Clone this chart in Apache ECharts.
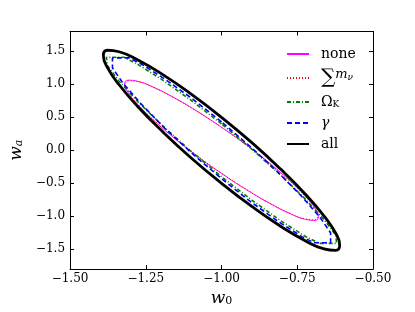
<!DOCTYPE html>
<html><head><meta charset="utf-8">
<script src="https://cdn.jsdelivr.net/npm/echarts@6/dist/echarts.min.js"></script>
<style>html,body{margin:0;padding:0;background:#fff}#c{width:415px;height:312px}</style>
</head><body><div id="c"></div>
<script>
const xTicks = [-1.5, -1.25, -1.0, -0.75, -0.5];
const yTicks = [-1.5, -1.0, -0.5, 0, 0.5, 1.0, 1.5];
const legendNames = ['none', '\u2211m\u03bd', '\u03a9K', '\u03b3', 'all'];

// contour points, [w0, wa]
const noneContour = [
  [-1.000,0.350],[-1.083,0.599],[-1.160,0.806],[-1.226,0.959],[-1.277,1.046],[-1.309,1.062],
  [-1.320,1.006],[-1.309,0.881],[-1.277,0.696],[-1.226,0.464],[-1.160,0.200],[-1.083,-0.078],
  [-1.000,-0.350],[-0.917,-0.599],[-0.840,-0.806],[-0.774,-0.959],[-0.723,-1.046],[-0.691,-1.062],
  [-0.680,-1.006],[-0.691,-0.881],[-0.723,-0.696],[-0.774,-0.464],[-0.840,-0.200],[-0.917,0.078],
  [-1.000,0.350]
];
const mnuContour = [
  [-1.000,0.347],[-1.082,0.593],[-1.158,0.798],[-1.224,0.949],[-1.274,1.036],[-1.306,1.051],
  [-1.317,0.996],[-1.306,0.872],[-1.274,0.689],[-1.224,0.459],[-1.158,0.198],[-1.082,-0.077],
  [-1.000,-0.347],[-0.918,-0.593],[-0.842,-0.798],[-0.776,-0.949],[-0.726,-1.036],[-0.694,-1.051],
  [-0.683,-0.996],[-0.694,-0.872],[-0.726,-0.689],[-0.776,-0.459],[-0.842,-0.198],[-0.918,0.077],
  [-1.000,0.347]
];
const omegaKContour = [
  [-1.000,0.400],[-1.101,0.759],[-1.195,1.066],[-1.276,1.301],[-1.322,1.410],[-1.380,1.410],
  [-1.377,1.287],[-1.338,1.047],[-1.276,0.735],[-1.195,0.374],[-1.101,-0.014],
  [-1.000,-0.400],[-0.899,-0.759],[-0.805,-1.066],[-0.724,-1.301],[-0.678,-1.410],[-0.620,-1.410],
  [-0.623,-1.287],[-0.662,-1.047],[-0.724,-0.735],[-0.805,-0.374],[-0.899,0.014],
  [-1.000,0.400]
];
const gammaContour = [
  [-1.000,0.430],[-1.097,0.783],[-1.188,1.082],[-1.265,1.308],[-1.305,1.400],[-1.360,1.400],
  [-1.360,1.250],[-1.325,1.015],[-1.265,0.700],[-1.188,0.338],[-1.097,-0.048],
  [-1.000,-0.430],[-0.903,-0.783],[-0.812,-1.082],[-0.735,-1.308],[-0.695,-1.400],[-0.640,-1.400],
  [-0.640,-1.250],[-0.675,-1.015],[-0.735,-0.700],[-0.812,-0.338],[-0.903,0.048],
  [-1.000,0.430]
];
const allContour = [
  [-1.000,0.500],[-1.101,0.855],[-1.195,1.151],[-1.276,1.369],[-1.338,1.493],[-1.377,1.516],
  [-1.390,1.435],[-1.377,1.257],[-1.338,0.993],[-1.276,0.661],[-1.195,0.285],[-1.101,-0.112],
  [-1.000,-0.500],[-0.899,-0.855],[-0.805,-1.151],[-0.724,-1.369],[-0.662,-1.493],[-0.623,-1.516],
  [-0.610,-1.435],[-0.623,-1.257],[-0.662,-0.993],[-0.724,-0.661],[-0.805,-0.285],[-0.899,0.112],
  [-1.000,0.500]
];

const FONT = 'DejaVu Serif';
const minus = s => s.replace('-', '\u2212');
const chart = echarts.init(document.getElementById('c'), null, {renderer: 'canvas'});

function lineSeries(name, data, color, width, type, smooth, z) {
  return {
    name: name, type: 'line', data: data, symbol: 'none', showSymbol: false,
    smooth: smooth, z: z, animation: false, clip: true,
    lineStyle: {color: color, width: width, type: type},
    itemStyle: {color: color, opacity: 0}
  };
}

const legendRich = {
  sp: {width: 7},
  t: {fontFamily: FONT, fontSize: 14, color: '#000'},
  sig: {fontFamily: FONT, fontSize: 20, color: '#000'},
  m: {fontFamily: FONT, fontSize: 13, fontStyle: 'italic', color: '#000', verticalAlign: 'top'},
  nu: {fontFamily: FONT, fontSize: 9, fontStyle: 'italic', color: '#000', verticalAlign: 'middle'},
  sub: {fontFamily: FONT, fontSize: 9, color: '#000', verticalAlign: 'bottom'},
  gi: {fontFamily: FONT, fontSize: 14, fontStyle: 'italic', color: '#000'}
};
const legendText = {};
legendText[legendNames[0]] = '{sp|}{t|none}';
legendText[legendNames[1]] = '{sp|}{sig|\u2211}{m|m}{nu|\u03bd}';
legendText[legendNames[2]] = '{sp|}{t|\u03a9}{sub|K}';
legendText[legendNames[3]] = '{sp|}{gi|\u03b3}';
legendText[legendNames[4]] = '{sp|}{t|all}';

const axisCommon = {
  axisLine: {show: true, onZero: false, lineStyle: {color: '#000', width: 1}},
  axisTick: {show: true, inside: true, length: 4, lineStyle: {color: '#000', width: 1}},
  splitLine: {show: false}
};

const option = {
  animation: false,
  backgroundColor: '#fff',
  grid: {left: 52, right: 42, top: 31.5, bottom: 32.5},
  legend: {
    orient: 'vertical', left: 281, top: 42, itemWidth: 22, itemHeight: 12, itemGap: 7,
    data: legendNames, formatter: n => legendText[n],
    itemStyle: {opacity: 0},
    textStyle: {rich: legendRich, fontFamily: FONT, fontSize: 14, color: '#000'}
  },
  xAxis: [
    Object.assign({}, axisCommon, {
      type: 'value', min: -1.5, max: -0.5, interval: 0.25, position: 'bottom',
      axisLabel: {fontFamily: FONT, fontSize: 12, color: '#000', margin: 4,
        alignMinLabel: 'center', alignMaxLabel: 'center',
        customValues: xTicks, formatter: v => minus(v.toFixed(2))},
      axisTick: Object.assign({}, axisCommon.axisTick, {customValues: xTicks}),
      name: '{w|w}{s|0}', nameLocation: 'middle', nameGap: 18,
      nameTextStyle: {rich: {
        w: {fontFamily: FONT, fontSize: 17, fontStyle: 'italic', color: '#000'},
        s: {fontFamily: FONT, fontSize: 11, color: '#000', verticalAlign: 'bottom'}}}
    }),
    Object.assign({}, axisCommon, {
      type: 'value', min: -1.5, max: -0.5, interval: 0.25, position: 'top',
      axisLabel: {show: false},
      axisTick: Object.assign({}, axisCommon.axisTick, {customValues: xTicks})
    })
  ],
  yAxis: [
    Object.assign({}, axisCommon, {
      type: 'value', min: -1.8, max: 1.8, position: 'left',
      axisLabel: {fontFamily: FONT, fontSize: 12, color: '#000', margin: 5,
        customValues: yTicks, formatter: v => minus(v.toFixed(1))},
      axisTick: Object.assign({}, axisCommon.axisTick, {customValues: yTicks}),
      name: '{w|w}{s|a}', nameLocation: 'middle', nameGap: 32, nameRotate: 90,
      nameTextStyle: {rich: {
        w: {fontFamily: FONT, fontSize: 17, fontStyle: 'italic', color: '#000'},
        s: {fontFamily: FONT, fontSize: 11, fontStyle: 'italic', color: '#000', verticalAlign: 'bottom'}}}
    }),
    Object.assign({}, axisCommon, {
      type: 'value', min: -1.8, max: 1.8, position: 'right',
      axisLabel: {show: false},
      axisTick: Object.assign({}, axisCommon.axisTick, {customValues: yTicks})
    })
  ],
  series: [
    lineSeries(legendNames[0], noneContour, '#ff00ff', 1, 'solid', 0.5, 2),
    lineSeries(legendNames[1], mnuContour, '#ff0000', 1, [1, 2], 0.5, 3),
    lineSeries(legendNames[2], omegaKContour, '#008000', 1.6, [4, 2, 1, 2], false, 4),
    lineSeries(legendNames[3], gammaContour, '#0000ff', 1.6, [5, 3], false, 5),
    lineSeries(legendNames[4], allContour, '#000000', 2.8, 'solid', 0.5, 6)
  ]
};
chart.setOption(option);
</script>
</body></html>
